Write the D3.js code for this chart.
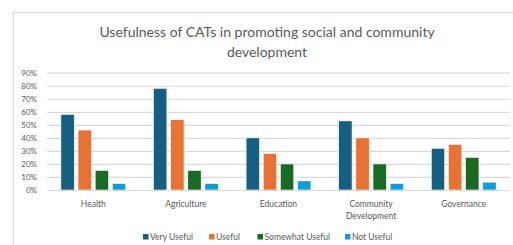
<!DOCTYPE html>
<html><head><meta charset="utf-8">
<script src="https://cdn.jsdelivr.net/npm/d3@7"></script>
<style>html,body{margin:0;padding:0;background:#fff;overflow:hidden}</style>
</head><body><svg id="c" width="513" height="245"></svg>
<script>
const categories = ["Health","Agriculture","Education","Community Development","Governance"];
const seriesNames = ["Very Useful","Useful","Somewhat Useful","Not Useful"];
const veryUseful = [58,78,40,53,32];
const useful = [46,54,28,40,35];
const somewhatUseful = [15,15,20,20,25];
const notUseful = [5,5,7,5,6];
const yTicks = [0,10,20,30,40,50,60,70,80,90];
const colors = ["#156082","#E97132","#196B24","#0F9ED5"];
const seriesValues = [veryUseful,useful,somewhatUseful,notUseful];

(function(){
const svg = d3.select("#c");
const font = "Lato, 'Open Sans', sans-serif";
const textCol = "#595959";

svg.append("rect").attr("x",13.5).attr("y",12.5).attr("width",520).attr("height",250)
  .attr("fill","#fff").attr("stroke","#d9d9d9");

const title = svg.append("text").attr("text-anchor","middle").attr("fill",textCol)
  .style("font-family",font).style("font-size","14px");
title.append("tspan").attr("x",267).attr("y",36.5).text("Usefulness of CATs in promoting social and community");
title.append("tspan").attr("x",267).attr("y",56.5).text("development");

const pLeft = 47, pRight = 510, pTop = 72.7, pBottom = 190;
const y = d3.scaleLinear().domain([0,90]).range([pBottom, pTop]);
const x0 = d3.scaleBand().domain(categories).range([pLeft,pRight]).paddingInner(0.3).paddingOuter(0.15);
const x1 = d3.scaleBand().domain(seriesNames).range([0,x0.bandwidth()]).paddingInner(0.22);

const yAxis = d3.axisLeft(y).tickValues(yTicks).tickFormat(d=>d+"%").tickSize(-(pRight-pLeft)).tickPadding(10);
const ga = svg.append("g").attr("transform",`translate(${pLeft},0)`).call(yAxis);
ga.select(".domain").remove();
ga.selectAll(".tick line").attr("stroke","#d9d9d9").attr("stroke-width",1.2);
ga.selectAll(".tick text").attr("fill",textCol).style("font-family",font).style("font-size","8px");

const groups = svg.append("g").selectAll("g").data(categories).join("g")
  .attr("transform",d=>`translate(${x0(d)},0)`);
groups.selectAll("rect").data((c,i)=>seriesNames.map((s,j)=>({s,j,v:seriesValues[j][i]})))
  .join("rect")
  .attr("x",d=>x1(d.s)).attr("width",x1.bandwidth())
  .attr("y",d=>y(d.v)).attr("height",d=>pBottom-y(d.v))
  .attr("fill",d=>colors[d.j]).attr("stroke","#fff").attr("stroke-width",0.6);

svg.append("line").attr("x1",pLeft).attr("x2",pRight).attr("y1",pBottom+0.5).attr("y2",pBottom+0.5).attr("stroke","#d9d9d9").attr("stroke-width",1.2);

const xl = svg.append("g").selectAll("text").data(categories).join("text")
  .attr("text-anchor","middle").attr("fill",textCol).style("font-family",font).style("font-size","8.5px");
xl.each(function(d){
  const words = d.split(" ");
  const t = d3.select(this);
  const cx = x0(d)+x0.bandwidth()/2;
  words.forEach((w,i)=>t.append("tspan").attr("x",cx).attr("y",206.5+i*12.3).text(w));
});

const legendX = [143, 209, 257.5, 345];
const lg = svg.append("g").selectAll("g").data(seriesNames).join("g")
  .attr("transform",(d,i)=>`translate(${legendX[i]},234)`);
lg.append("rect").attr("width",5.5).attr("height",5.5).attr("fill",(d,i)=>colors[i]);
lg.append("text").attr("x",7).attr("y",5.8).attr("fill",textCol).style("font-family",font).style("font-size","8.5px").text(d=>d);
})();
</script>
</body></html>
